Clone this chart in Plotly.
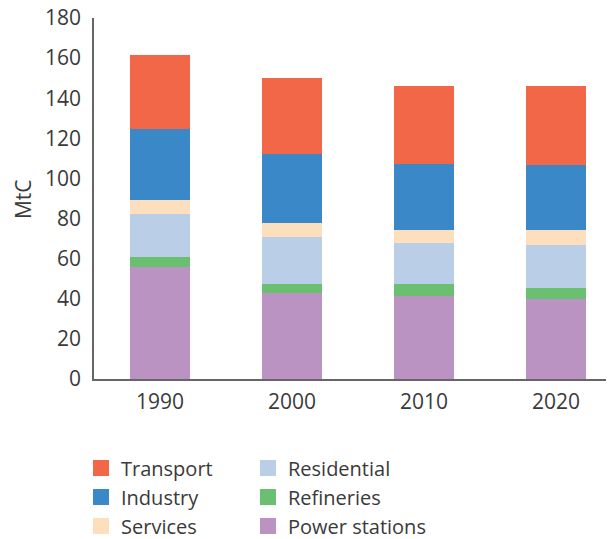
import plotly.graph_objects as go

years = ["1990", "2000", "2010", "2020"]
power_stations = [56, 43, 41.5, 40]
refineries = [5, 4.5, 6, 5.5]
residential = [21.5, 23.5, 20.5, 21.5]
services = [7, 7, 6.5, 7.5]
industry = [35, 34, 32.5, 32]
transport = [37, 38, 39, 39.5]

series = [
    ("Power stations", power_stations, "#BB93C2"),
    ("Refineries", refineries, "#6ABF71"),
    ("Residential", residential, "#BACEE8"),
    ("Services", services, "#FDDFBE"),
    ("Industry", industry, "#3A88C8"),
    ("Transport", transport, "#F16748"),
]

fig = go.Figure()
for name, vals, col in series:
    fig.add_trace(go.Bar(x=years, y=vals, name=name, marker=dict(color=col, line=dict(width=0)),
                         width=0.455, showlegend=False))

# legend-only entries (two columns)
col1 = ["Transport", "Industry", "Services"]
col2 = ["Residential", "Refineries", "Power stations"]
cmap = {n: c for n, _, c in series}
for i, n in enumerate(col1):
    fig.add_trace(go.Scatter(x=[None], y=[None], mode="markers", name=n,
                             marker=dict(symbol="square", size=16, color=cmap[n]),
                             legend="legend", legendgroup="a", legendrank=i + 1))
for i, n in enumerate(col2):
    fig.add_trace(go.Scatter(x=[None], y=[None], mode="markers", name=n,
                             marker=dict(symbol="square", size=16, color=cmap[n]),
                             legend="legend2", legendgroup="b", legendrank=i + 1))

txtcol = "#3a3a3a"
font = dict(family="Open Sans, Noto Sans, sans-serif", size=21, color=txtcol)
lfont = dict(family="Open Sans, Noto Sans, sans-serif", size=20, color=txtcol)
leg = dict(font=lfont, bgcolor="rgba(0,0,0,0)", orientation="v", tracegroupgap=0,
           traceorder="normal", yanchor="top", xanchor="left", itemclick=False,
           xref="container", yref="container")
fig.update_layout(
    width=606, height=531,
    margin=dict(l=86, r=0, t=10, b=160, autoexpand=False),
    paper_bgcolor="white", plot_bgcolor="white",
    barmode="stack",
    font=font,
    legend=dict(**leg, x=0.1205, y=0.1704),
    legend2=dict(**leg, x=0.396, y=0.1704),
    xaxis=dict(range=[-0.5, 3.44], showline=True, linecolor="#666666", linewidth=1.5,
               ticks="", showgrid=False, tickfont=dict(size=21), fixedrange=True,
               automargin=False, ticklabelstandoff=3, ticklabeloverflow="allow"),
    yaxis=dict(range=[0, 180], dtick=20, showline=True, linecolor="#666666", linewidth=1.5,
               ticks="", showgrid=False, zeroline=False, tickfont=dict(size=21),
               automargin=False, ticklabelstandoff=7, ticklabeloverflow="allow"),
    annotations=[dict(text="MtC", textangle=-90, xref="paper", yref="paper",
                      x=-0.1365, y=0.4986, xanchor="center", yanchor="middle",
                      showarrow=False, font=dict(size=21, color=txtcol))],
)
fig.write_html("out.html")
